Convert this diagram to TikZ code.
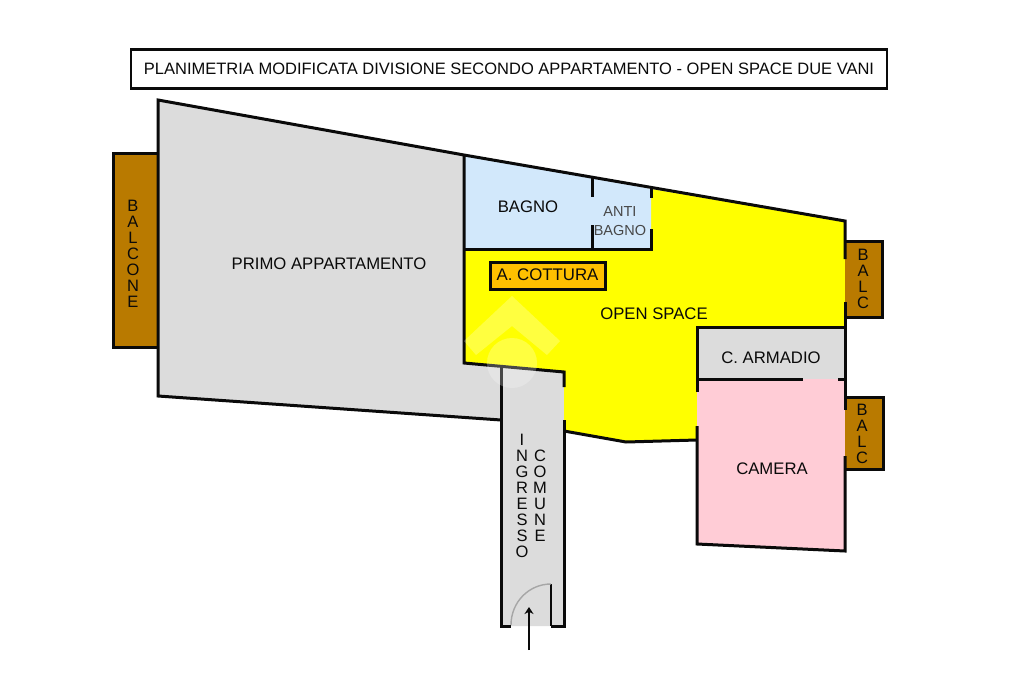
\documentclass[tikz,border=0pt]{standalone}
\usepackage{fontspec}
\usetikzlibrary{arrows.meta}
\setmainfont{Liberation Sans}
\definecolor{roomgray}{HTML}{DCDCDC}
\definecolor{balc}{HTML}{B97A00}
\definecolor{yel}{HTML}{FFFF00}
\definecolor{bluer}{HTML}{D2E8FB}
\definecolor{pinkr}{HTML}{FFCCD6}
\definecolor{orangeb}{HTML}{FFC000}
\definecolor{ink}{HTML}{0A0A0A}
\tikzset{
 wall/.style={draw=ink,line width=3pt,line cap=butt,line join=miter},
 thinwall/.style={draw=ink,line width=2.4pt},
 lab/.style={inner sep=0pt,font=\fontsize{16.7}{17}\selectfont,text=ink},
 vlab/.style={inner sep=0pt,align=center,font=\fontsize{16.5}{16}\selectfont,text=ink},
}
\begin{document}
\begin{tikzpicture}[x=1pt,y=-1pt]
\useasboundingbox (0,0) rectangle (1024,682);
\fill[white] (0,0) rectangle (1024,682);
% fills
\fill[roomgray] (158,100) -- (464,155) -- (464,363) -- (501,367) -- (501,420) -- (158,396) -- cycle;
\fill[roomgray] (501,367) -- (564,372) -- (564,626) -- (501,626) -- cycle;
\fill[yel] (464,249) -- (651,249) -- (651,189) -- (845,221) -- (845,327) -- (697,327) -- (697,440) -- (626,442) -- (564,431) -- (564,372) -- (464,363) -- cycle;
\fill[bluer] (464,155) -- (651,189) -- (651,249) -- (464,249) -- cycle;
\fill[roomgray] (697,327) rectangle (845,379);
\fill[pinkr] (697,379) -- (845,379) -- (845,551) -- (697,544) -- cycle;
% balconies
\draw[wall,fill=balc] (158,153) -- (113,153) -- (113,347) -- (158,347);
\draw[wall,fill=balc] (845,241) -- (882,241) -- (882,317) -- (845,317);
\draw[wall,fill=balc] (845,397) -- (883,397) -- (883,469) -- (845,469);
% main outline walls
\draw[wall] (464,155) -- (158,100) -- (158,396) -- (501,420);
\draw[wall] (464,155) -- (845,221) -- (845,259);
\draw[wall] (845,302) -- (845,410);
\draw[wall] (845,456) -- (845,551) -- (697,544) -- (697,426);
\draw[wall] (697,392) -- (697,327) -- (845,327);
\draw[wall] (697,440) -- (626,442) -- (564,431);
\draw[wall] (464,155) -- (464,363) -- (564,372) -- (564,387);
\draw[wall] (564,420) -- (564,626) -- (551,626);
\draw[wall] (501,367) -- (501,626) -- (511,626);
% inner walls
\draw[wall] (464,249) -- (651,249) -- (651,229);
\draw[wall] (651,189) -- (651,198);
\draw[wall] (592,178) -- (592,197);
\draw[wall] (592,225) -- (592,249);
\draw[wall] (697,379) -- (803,379);
\draw[wall] (838,379) -- (845,379);
% door
\draw[thinwall] (551,584) -- (551,626);
\draw[draw=gray!70,line width=1.4pt] (551,584) .. controls (529,584) and (511,602) .. (511,625);
\coordinate (arrowfrom) at (529,650);
\coordinate (arrowto) at (529,607);
\draw[draw=ink,line width=1.6pt,-{Stealth[length=7pt,width=9pt]}] (arrowfrom) -- (arrowto);
% title
\node[draw=ink,line width=2.6pt,minimum width=756pt,minimum height=39pt,inner sep=0pt,anchor=center,fill=white,font=\fontsize{16.5}{17}\selectfont,text=ink] (title) at (509,69) {PLANIMETRIA MODIFICATA DIVISIONE SECONDO APPARTAMENTO - OPEN SPACE DUE VANI};
% labels
\node[lab] (primo) at (329,264) {PRIMO APPARTAMENTO};
\node[lab] (bagno) at (528,207) {BAGNO};
\node[lab,align=center,text=ink!75,font=\fontsize{14.5}{19}\selectfont] (anti) at (620,221.5) {ANTI\\BAGNO};
\node[draw=ink,line width=3pt,fill=orangeb,minimum width=115pt,minimum height=27pt,inner sep=0pt,font=\fontsize{16.8}{17}\selectfont,text=ink] (cottura) at (547.5,275.5) {\raisebox{1.5pt}{A. COTTURA}};
\node[lab] (open) at (654,314) {OPEN SPACE};
\node[lab] (armadio) at (771,358) {C. ARMADIO};
\node[lab] (camera) at (772,469) {CAMERA};
\node[vlab] (balcone) at (133,253.5) {B\\A\\L\\C\\O\\N\\E};
\node[vlab] (balc1) at (863,279) {B\\A\\L\\C};
\node[vlab] (balc2) at (862,434) {B\\A\\L\\C};
\node[vlab] (ingresso) at (522,495.5) {I\\N\\G\\R\\E\\S\\S\\O};
\node[vlab] (comune) at (540,495.5) {C\\O\\M\\U\\N\\E};
% watermark
\begin{scope}[opacity=0.25]
\fill[white] (464,341) -- (512,296) -- (560,341) -- (547,355) -- (512,326) -- (476,355) -- cycle;
\fill[white] (512,363) circle (25);
\end{scope}
\end{tikzpicture}
\end{document}
